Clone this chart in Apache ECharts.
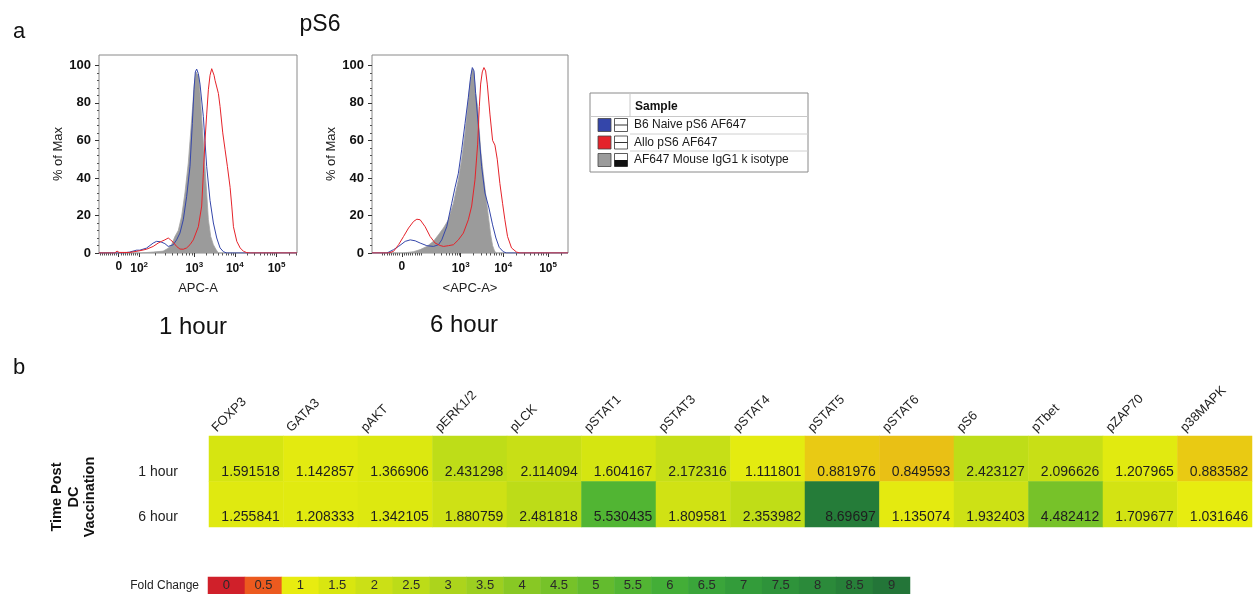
<!DOCTYPE html>
<html><head><meta charset="utf-8">
<script src="https://cdn.jsdelivr.net/npm/echarts@6/dist/echarts.min.js"></script>
<style>html,body{margin:0;padding:0;background:#fff}#c{width:1255px;height:594px}</style>
</head><body><div id="c"></div>
<script>
// ================= DATA =================
// Histograms: x = display channel (biexponential APC-A scale), y = % of Max
const hist1Isotype = [[178,0],[300,0],[340,0.5],[370,1],[385,2.5],[395,4.4],[405,8.8],[415,12],[425,19.5],[435,32],[445,48],[452,64],[458,78],[463,90],[468,96.5],[472,97],[476,94],[480,85],[487,67],[494,48],[500,32],[505,17.7],[512,8.8],[520,4.4],[528,1.8],[535,0],[770,0]];
const hist1B6 = [[178,0],[250,0],[270,0.5],[290,1.5],[300,1.5],[320,2.6],[340,5.3],[350,6.2],[362,6],[375,5],[385,3.5],[400,4.4],[410,7],[420,10.6],[430,17.7],[440,30],[450,46],[457,69],[462,87],[466,96.5],[470,98],[475,95.6],[480,90],[490,72.6],[500,46],[510,28],[520,16],[530,8],[540,2.7],[550,0.7],[560,0],[770,0]];
const hist1Allo = [[178,0],[225,0],[232,1],[238,0.3],[270,0.3],[300,1.2],[320,2],[340,3.5],[355,5.3],[365,6.2],[375,7],[385,8],[392,7],[400,5.7],[410,3.5],[420,2.1],[430,2],[440,2.7],[450,4.4],[460,7],[475,14],[485,25],[490,42.5],[495,60],[500,74],[505,87],[510,94.7],[515,98.2],[518,99],[522,94.7],[525,92],[530,91],[535,85],[540,78],[548,64],[555,55],[562,46],[570,35],[575,25],[580,14],[590,6.2],[600,2.7],[610,0.9],[620,0.2],[630,0],[770,0]];

const hist2Isotype = [[185,0],[280,0],[310,0.7],[330,1.8],[350,3.5],[370,6.2],[385,9.7],[400,13.3],[415,17.7],[430,26.5],[445,39],[455,50],[465,64],[473,78],[480,90],[485,96.5],[488,98.2],[492,95.6],[497,85],[503,78],[512,55],[520,42],[528,30],[535,20],[542,10],[548,4],[553,1.5],[558,0],[775,0]];
const hist2B6 = [[185,0],[230,0],[235,0.7],[250,1.8],[265,3.5],[285,6.2],[300,7],[315,6.5],[330,5.3],[350,3.9],[370,3.5],[385,4.4],[395,7],[410,14],[425,26.5],[435,35],[445,42.5],[455,55],[465,69],[475,83],[482,94],[487,98.8],[492,97],[497,85],[505,68],[515,46],[525,32],[537,24],[548,15],[558,8],[568,3],[580,0.7],[590,0],[775,0]];
const hist2Allo = [[185,0],[235,0],[250,0.9],[265,4.4],[280,8.8],[295,13.3],[310,16.8],[320,18],[330,17.7],[345,14],[360,8.8],[375,5.3],[390,4],[400,3.5],[415,3.9],[430,4.4],[445,7],[460,10.6],[475,17.7],[485,25],[495,39],[503,58],[508,78],[512,90],[517,96.5],[522,98.8],[527,97],[532,90],[540,74],[548,60],[555,57.5],[562,50],[570,37],[578,26.5],[585,17.7],[593,8.8],[605,2.7],[620,0.5],[630,0],[775,0]];

// axis tick labels (display channel positions)
const hist1Ticks = [237, 298, 463, 584, 709];
const hist1TickText = ['0', '10^2', '10^3', '10^4', '10^5'];
const hist2Ticks = [275, 452, 580, 715];
const hist2TickText = ['0', '10^3', '10^4', '10^5'];
const yTicks = [0, 20, 40, 60, 80, 100];

const legendNames = ['B6 Naive pS6 AF647', 'Allo pS6 AF647', 'AF647 Mouse IgG1 k isotype'];

// Heatmap
const markers = ['FOXP3','GATA3','pAKT','pERK1/2','pLCK','pSTAT1','pSTAT3','pSTAT4','pSTAT5','pSTAT6','pS6','pTbet','pZAP70','p38MAPK'];
const timepoints = ['1 hour', '6 hour'];
const fold1h = [1.591518,1.142857,1.366906,2.431298,2.114094,1.604167,2.172316,1.111801,0.881976,0.849593,2.423127,2.096626,1.207965,0.883582];
const fold6h = [1.255841,1.208333,1.342105,1.880759,2.481818,5.530435,1.809581,2.353982,8.69697,1.135074,1.932403,4.482412,1.709677,1.031646];
const foldScale = [0,0.5,1,1.5,2,2.5,3,3.5,4,4.5,5,5.5,6,6.5,7,7.5,8,8.5,9];
const foldColors = ['#d0202a','#ec5a1f','#e8ec10','#d8e610','#cbe016','#bcdc18','#acd41c','#9ccf20','#88c824','#76c229','#63bb2e','#52b533','#43ae37','#3aa53a','#339c3a','#2e933a','#2b8a3a','#278039','#237538'];

// ================= CHART =================
const FONT = '"Liberation Sans", Arial, Helvetica, sans-serif';
const chart = echarts.init(document.getElementById('c'), null, {renderer: 'canvas'});

function minorTicks(zero, linStep, decades, min, max) {
  const out = [];
  for (let k = 1; k <= 9; k++) { out.push(zero + k * linStep); out.push(zero - k * linStep); }
  decades.forEach(([p, w]) => { for (let k = 2; k <= 9; k++) out.push(p + w * Math.log10(k)); });
  return out.filter(v => v > min && v < max);
}
const h1Minor = minorTicks(237, 6.1, [[298,165],[463,121],[584,125],[709,125]], 178, 770);
const h2Minor = minorTicks(275, 6.5, [[340,112],[452,128],[580,135],[715,135]], 185, 775);
const yMinor = [];
for (let v = 4; v < 104; v += 4) if (v % 20 !== 0) yMinor.push(v);

function tickFmt(txt) {
  if (txt === '0') return '{b|0}';
  return '{b|10}{s|' + txt.split('^')[1] + '}';
}
const tickRich = {
  b: {fontSize: 12, fontWeight: 'bold', color: '#111', fontFamily: FONT},
  s: {fontSize: 8, fontWeight: 'bold', color: '#111', fontFamily: FONT, padding: [0, 0, 7, 0]}
};

function histX(grid, min, max, ticks, texts, name, minor) {
  return [{
    type: 'value', gridIndex: grid, min, max, position: 'bottom',
    name, nameLocation: 'middle', nameGap: 29,
    nameTextStyle: {fontSize: 13, color: '#222', fontFamily: FONT},
    axisLine: {show: false}, splitLine: {show: false},
    axisTick: {show: true, customValues: ticks, length: 4, lineStyle: {color: '#333'}},
    axisLabel: {customValues: ticks, margin: 8, rich: tickRich,
      formatter: v => { const i = ticks.findIndex(t => Math.abs(t - v) < 0.01); return i < 0 ? '' : tickFmt(texts[i]); }}
  }, {
    type: 'value', gridIndex: grid, min, max, position: 'bottom',
    axisLine: {show: false}, splitLine: {show: false}, axisLabel: {show: false},
    axisTick: {show: true, customValues: minor, length: 2.5, lineStyle: {color: '#555'}}
  }];
}
function histY(grid) {
  return [{
    type: 'value', gridIndex: grid, min: 0, max: 105.5, position: 'left',
    name: '% of Max', nameLocation: 'middle', nameGap: 32, nameRotate: 90,
    nameTextStyle: {fontSize: 13, color: '#222', fontFamily: FONT},
    axisLine: {show: false}, splitLine: {show: false},
    axisTick: {show: true, customValues: yTicks, length: 4, lineStyle: {color: '#333'}},
    axisLabel: {customValues: yTicks, margin: 8, fontSize: 13, fontWeight: 'bold', color: '#111', fontFamily: FONT}
  }, {
    type: 'value', gridIndex: grid, min: 0, max: 105.5, position: 'left',
    axisLine: {show: false}, splitLine: {show: false}, axisLabel: {show: false},
    axisTick: {show: true, customValues: yMinor, length: 2, lineStyle: {color: '#555'}}
  }];
}

const BLUE = '#3446aa', RED = '#e5232a', GRAY = '#9b9b9b';
function histSeries(xi, yi, iso, b6, allo) {
  return [
    {type: 'line', name: legendNames[2], xAxisIndex: xi, yAxisIndex: yi, data: iso, symbol: 'none',
      lineStyle: {color: '#a3a3a3', width: 0.8}, areaStyle: {color: GRAY, opacity: 1}, silent: true, z: 2},
    {type: 'line', name: legendNames[0], xAxisIndex: xi, yAxisIndex: yi, data: b6, symbol: 'none',
      lineStyle: {color: BLUE, width: 1}, silent: true, z: 3},
    {type: 'line', name: legendNames[1], xAxisIndex: xi, yAxisIndex: yi, data: allo, symbol: 'none',
      lineStyle: {color: RED, width: 1}, silent: true, z: 4}
  ];
}

const heatData = [];
fold1h.forEach((v, i) => heatData.push([i, 0, v]));
fold6h.forEach((v, i) => heatData.push([i, 1, v]));
const scaleData = foldScale.map((v, i) => [i, 0, v]);
const headerPos = markers.map((m, i) => i + 0.07);

const series = [
  ...histSeries(0, 0, hist1Isotype, hist1B6, hist1Allo),
  ...histSeries(2, 2, hist2Isotype, hist2B6, hist2Allo),
  {type: 'heatmap', xAxisIndex: 4, yAxisIndex: 4, data: heatData, silent: true,
    itemStyle: {borderWidth: 0},
    label: {show: true, position: 'insideBottomRight', distance: 3, offset: [-1, 0],
      fontSize: 14, lineHeight: 14, color: '#1e1e1e', fontFamily: FONT,
      formatter: p => String(p.value[2])},
    emphasis: {disabled: true}},
  {type: 'heatmap', xAxisIndex: 6, yAxisIndex: 5, data: scaleData, silent: true,
    itemStyle: {borderWidth: 0},
    label: {show: true, fontSize: 13, color: '#2a2a2a', fontFamily: FONT, formatter: p => String(p.value[2])},
    emphasis: {disabled: true}}
];

// legend graphics
const LX = 590, LY = 93, LW = 218, LH = 79;
const rowsY = [125, 142.5, 160];
const legendColors = [BLUE, RED, GRAY];
const legendEls = [
  {type: 'rect', shape: {x: LX, y: LY, width: LW, height: LH}, style: {fill: '#fff', stroke: '#8a8a8a', lineWidth: 1}},
  {type: 'line', shape: {x1: 630, y1: LY, x2: 630, y2: 116.5}, style: {stroke: '#c8c8c8', lineWidth: 1}},
  {type: 'line', shape: {x1: LX, y1: 116.5, x2: LX + LW, y2: 116.5}, style: {stroke: '#c8c8c8', lineWidth: 1}},
  {type: 'line', shape: {x1: 630, y1: 134, x2: LX + LW, y2: 134}, style: {stroke: '#d0d0d0', lineWidth: 1}},
  {type: 'line', shape: {x1: 630, y1: 151, x2: LX + LW, y2: 151}, style: {stroke: '#d0d0d0', lineWidth: 1}},
  {type: 'text', x: 635, y: 106.5, style: {text: 'Sample', font: 'bold 12px ' + FONT, fill: '#111', verticalAlign: 'middle'}}
];
rowsY.forEach((cy, i) => {
  legendEls.push({type: 'rect', shape: {x: 598, y: cy - 6.5, width: 13, height: 13}, style: {fill: legendColors[i], stroke: '#444', lineWidth: 0.8}});
  legendEls.push({type: 'rect', shape: {x: 614.5, y: cy - 6.5, width: 13, height: 13}, style: {fill: '#fff', stroke: '#333', lineWidth: 0.8}});
  if (i < 2) legendEls.push({type: 'line', shape: {x1: 614.5, y1: cy, x2: 627.5, y2: cy}, style: {stroke: '#333', lineWidth: 1}});
  else legendEls.push({type: 'rect', shape: {x: 614.5, y: cy, width: 13, height: 6.5}, style: {fill: '#111'}});
  legendEls.push({type: 'text', x: 634, y: cy, style: {text: legendNames[i], font: '12px ' + FONT, fill: '#1a1a1a', verticalAlign: 'middle'}});
});

const option = {
  animation: false,
  backgroundColor: '#fff',
  textStyle: {fontFamily: FONT},
  grid: [
    {left: 99, top: 55, width: 198, height: 198, show: true, borderColor: '#8a8a8a', borderWidth: 1, backgroundColor: 'transparent'},
    {left: 372, top: 55, width: 196, height: 198, show: true, borderColor: '#8a8a8a', borderWidth: 1, backgroundColor: 'transparent'},
    {left: 209, top: 436, width: 1043, height: 91},
    {left: 208, top: 577, width: 702, height: 17}
  ],
  xAxis: [
    ...histX(0, 178, 770, hist1Ticks, hist1TickText, 'APC-A', h1Minor),
    ...histX(1, 185, 775, hist2Ticks, hist2TickText, '<APC-A>', h2Minor),
    {type: 'category', gridIndex: 2, data: markers, show: false},
    {type: 'value', gridIndex: 2, min: 0, max: 14, position: 'top',
      axisLine: {show: false}, axisTick: {show: false}, splitLine: {show: false},
      axisLabel: {customValues: headerPos, rotate: -45, margin: 6, fontSize: 13, color: '#1e1e1e', fontFamily: FONT,
        formatter: v => markers[Math.floor(v)] || ''}},
    {type: 'category', gridIndex: 3, data: foldScale.map(String), show: false}
  ],
  yAxis: [
    ...histY(0),
    ...histY(1),
    {type: 'category', gridIndex: 2, data: timepoints, inverse: true,
      axisLine: {show: false}, axisTick: {show: false}, splitLine: {show: false},
      axisLabel: {margin: 31, fontSize: 14, color: '#222', fontFamily: FONT, verticalAlign: 'top', lineHeight: 26}},
    {type: 'category', gridIndex: 3, data: ['Fold Change'],
      axisLine: {show: false}, axisTick: {show: false}, splitLine: {show: false},
      axisLabel: {margin: 9, fontSize: 12, color: '#222', fontFamily: FONT}}
  ],
  visualMap: {type: 'continuous', show: false, min: 0, max: 9, dimension: 2, seriesIndex: [6, 7],
    inRange: {color: foldColors}},
  series,
  graphic: [
    {type: 'text', x: 19, y: 32, style: {text: 'a', font: '22px ' + FONT, fill: '#111', align: 'center', verticalAlign: 'middle'}},
    {type: 'text', x: 320, y: 25, style: {text: 'pS6', font: '23px ' + FONT, fill: '#111', align: 'center', verticalAlign: 'middle'}},
    {type: 'text', x: 193, y: 327, style: {text: '1 hour', font: '24px ' + FONT, fill: '#111', align: 'center', verticalAlign: 'middle'}},
    {type: 'text', x: 464, y: 325, style: {text: '6 hour', font: '24px ' + FONT, fill: '#111', align: 'center', verticalAlign: 'middle'}},
    {type: 'text', x: 19, y: 368, style: {text: 'b', font: '22px ' + FONT, fill: '#111', align: 'center', verticalAlign: 'middle'}},
    {type: 'text', x: 73.5, y: 497, rotation: Math.PI / 2,
      style: {text: 'Time Post\nDC\nVaccination', font: 'bold 14.5px ' + FONT, lineHeight: 16.5, fill: '#111', align: 'center', verticalAlign: 'middle'}},
    ...legendEls
  ]
};
chart.setOption(option);
</script>
</body></html>
